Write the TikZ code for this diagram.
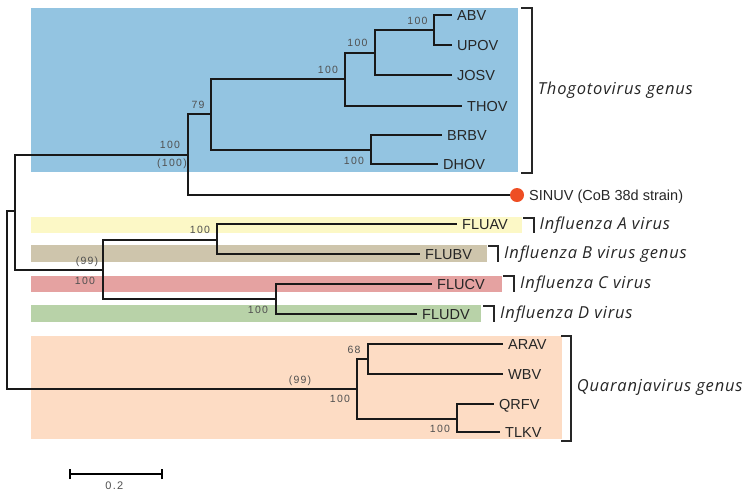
\documentclass[tikz,border=0pt]{standalone}
\usepackage{fontspec}
\setmainfont{Liberation Sans}
\newfontfamily\bsfont{Liberation Sans}[LetterSpace=12]
\newfontfamily\grpfont{Open Sans}[LetterSpace=5]
\definecolor{cblue}{HTML}{93C4E1}
\definecolor{cyellow}{HTML}{FCF8C6}
\definecolor{ctan}{HTML}{CEC5AC}
\definecolor{cred}{HTML}{E5A2A1}
\definecolor{cgreen}{HTML}{B8D2A8}
\definecolor{cpeach}{HTML}{FDDCC4}
\definecolor{cdot}{HTML}{EE4E24}
\definecolor{cbs}{HTML}{505050}
\tikzset{
  br/.style={line width=1.8pt, black!90},
  tip/.style={anchor=west, inner xsep=5pt, inner ysep=0pt, text height=10.4pt, text depth=0pt,
    font=\fontsize{14.5}{16}\selectfont, text=black!85},
  bs/.style={inner sep=0pt, font=\bsfont\fontsize{10.5}{12}\selectfont, text=cbs},
  grp/.style={anchor=west, inner sep=0pt, text height=11.8pt, text depth=0pt,
    font=\grpfont\itshape\fontsize{16.5}{19}\selectfont, text=black!85},
  brk/.style={line width=1.8pt, black!85},
}
\begin{document}
\begin{tikzpicture}[x=1pt,y=-1pt]
\useasboundingbox (0,0) rectangle (754,499);
% background boxes
\fill[cblue]   (31,8) rectangle (518,172);
\fill[cyellow] (31,216.7) rectangle (521.7,233.3);
\fill[ctan]    (31,245) rectangle (487,261.7);
\fill[cred]    (31,275.7) rectangle (502,291.7);
\fill[cgreen]  (31,305.3) rectangle (480.7,322.3);
\fill[cpeach]  (31,336) rectangle (561.7,439.3);
% internal nodes
\coordinate (R)   at (7,300);
\coordinate (N1)  at (15,211);
\coordinate (T)   at (188,155);
\coordinate (N79) at (211,114);
\coordinate (A)   at (345,79);
\coordinate (C)   at (375,53);
\coordinate (D)   at (434,30);
\coordinate (B)   at (371,150);
\coordinate (I)   at (103,270);
\coordinate (IA)  at (217,240);
\coordinate (IC)  at (276,299);
\coordinate (Q)   at (357,389);
\coordinate (Q1)  at (368,359);
\coordinate (Q2)  at (457,419);
% tips
\node[tip] (ABV)  at (452,15) {ABV};
\node[tip] (UPOV) at (452,45) {UPOV};
\node[tip] (JOSV) at (452,75) {JOSV};
\node[tip] (THOV) at (462,106) {THOV};
\node[tip] (BRBV) at (442,135) {BRBV};
\node[tip] (DHOV) at (438,164) {DHOV};
\node[circle, fill=cdot, minimum size=14pt, inner sep=0pt] (dot) at (517,195) {};
\node[tip, inner xsep=0pt] (SINUV) at (529,195) {SINUV (CoB 38d strain)};
\node[tip] (FLUAV) at (457,224) {FLUAV};
\node[tip] (FLUBV) at (420,254) {FLUBV};
\node[tip] (FLUCV) at (432,284) {FLUCV};
\node[tip] (FLUDV) at (417,314) {FLUDV};
\node[tip] (ARAV) at (503,344) {ARAV};
\node[tip] (WBV)  at (503,374) {WBV};
\node[tip] (QRFV) at (494,404) {QRFV};
\node[tip] (TLKV) at (500,432) {TLKV};
% branches
\draw[br] (R) |- (N1);
\draw[br] (R) |- (Q);
\draw[br] (N1) |- (T);
\draw[br] (N1) |- (I);
\draw[br] (T) |- (N79);
\draw[br] (T) |- (dot.west);
\draw[br] (N79) |- (A);
\draw[br] (N79) |- (B);
\draw[br] (A) |- (C);
\draw[br] (A) |- (THOV.west);
\draw[br] (C) |- (D);
\draw[br] (C) |- (JOSV.west);
\draw[br] (D) |- (ABV.west);
\draw[br] (D) |- (UPOV.west);
\draw[br] (B) |- (BRBV.west);
\draw[br] (B) |- (DHOV.west);
\draw[br] (I) |- (IA);
\draw[br] (I) |- (IC);
\draw[br] (IA) |- (FLUAV.west);
\draw[br] (IA) |- (FLUBV.west);
\draw[br] (IC) |- (FLUCV.west);
\draw[br] (IC) |- (FLUDV.west);
\draw[br] (Q) |- (Q1);
\draw[br] (Q) |- (Q2);
\draw[br] (Q1) |- (ARAV.west);
\draw[br] (Q1) |- (WBV.west);
\draw[br] (Q2) |- (QRFV.west);
\draw[br] (Q2) |- (TLKV.west);
% bootstrap values
\node[bs] (bT1) at (170,145) {100};
\node[bs] (bT2) at (172,163.3) {(100)};
\node[bs] (b79) at (198,105) {79};
\node[bs] (bA) at (328,70) {100};
\node[bs] (bC) at (357.5,43) {100};
\node[bs] (bD) at (417.5,21.3) {100};
\node[bs] (bB) at (354,161) {100};
\node[bs] (bI1) at (87,262) {(99)};
\node[bs] (bI2) at (85,281) {100};
\node[bs] (bIA) at (200,230) {100};
\node[bs] (bIC) at (258,310) {100};
\node[bs] (bQ1) at (300,381) {(99)};
\node[bs] (bQ2) at (340,399.3) {100};
\node[bs] (b68) at (354,350) {68};
\node[bs] (bQ3) at (440,429.3) {100};
% brackets and group labels
\draw[brk] (521,8) -| (532,173) -- (521,173);
\node[grp] (gT) at (537.7,88.8) {Thogotovirus genus};
\draw[brk] (523,218) -| (534,233);
\node[grp] (gA) at (539.3,223.3) {Influenza A virus};
\draw[brk] (488,246) -| (498,262);
\node[grp] (gB) at (504,253) {Influenza B virus genus};
\draw[brk] (503,276) -| (514,292);
\node[grp] (gC) at (520,282.2) {Influenza C virus};
\draw[brk] (483,306) -| (494,322);
\node[grp] (gD) at (500,312.2) {Influenza D virus};
\draw[brk] (561,336) -| (571,441) -- (561,441);
\node[grp] (gQ) at (576.7,386) {Quaranjavirus genus};
% scale bar
\coordinate (s1) at (70,474);
\coordinate (s2) at (162,474);
\draw[line width=1.5pt] (s1) -- (s2);
\draw[line width=1.5pt] ([yshift=-5pt]s1) -- ([yshift=5pt]s1);
\draw[line width=1.5pt] ([yshift=-5pt]s2) -- ([yshift=5pt]s2);
\node[bs, font=\bsfont\fontsize{11}{12}\selectfont] (sl) at (114.3,486) {0.2};
\end{tikzpicture}
\end{document}
